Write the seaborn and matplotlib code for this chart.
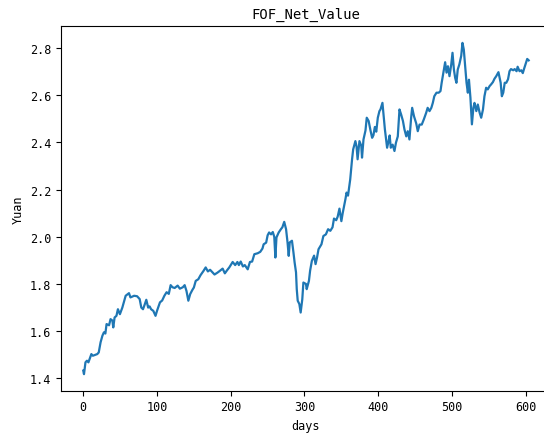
import matplotlib
matplotlib.use("Agg")
import matplotlib.pyplot as plt
import seaborn as sns
import pandas as pd

# Net value of the FOF portfolio, sampled along the trading-day axis
days = [
    0, 1, 3, 5, 7, 11, 13, 19, 21, 23.5, 26, 28, 30, 31.6, 35, 37, 39.5, 40.7,
    42.5, 45, 47, 49.7, 53, 57.5, 62, 64, 69, 73, 76.5, 78.7, 81, 83, 85.5, 88,
    90, 92, 95, 98, 100, 104, 107, 110, 113, 116, 118.5, 121, 124, 128, 131,
    135, 137.5, 140, 142.5, 145, 148, 150, 152.5, 156, 159, 163, 166, 169, 172,
    175, 178, 182, 185, 189, 192, 195, 198, 202.6, 206, 209, 211, 213.5, 216.5,
    219, 223, 226, 229, 232, 236.5, 240, 243, 244.6, 248, 250, 252, 254.6, 257,
    259, 260.5, 262, 265, 268, 270, 272.5, 275, 277, 278.6, 280, 283, 285,
    286.6, 288.5, 289.5, 290.8, 293, 294.8, 297, 298.5, 302, 303, 306, 307.6,
    310, 313, 315, 317, 319, 323, 325.6, 329, 332, 335, 338, 340, 343, 345,
    347.4, 350, 351.8, 355.5, 357, 359, 362, 364.5, 366, 369, 370.6, 372,
    374.5, 377, 378, 380, 382.7, 384.4, 387, 389.5, 391.7, 393.5, 395.4, 397.3,
    399.4, 401.6, 403, 405.7, 407.5, 409, 412, 414, 415.5, 417, 419.5, 422,
    424, 426.5, 428.8, 431, 433.5, 435.5, 438, 440, 442.3, 444.6, 446, 448.5,
    451.5, 453.6, 456, 459, 461.8, 465, 467, 469.5, 472, 474, 476, 479, 482,
    484.4, 486, 489, 490.7, 492.6, 494.5, 496.6, 499, 500.7, 502.6, 504.3, 506,
    507.8, 510, 512.5, 514.2, 516, 518, 519.7, 521.5, 523, 525, 527, 529,
    530.5, 533, 535, 537.5, 539.6, 542, 544, 546.3, 548.5, 551, 553, 555.5,
    557.6, 560, 563, 566, 567.6, 569.5, 571.5, 573.6, 576, 578, 580, 583, 585,
    587.6, 589, 591.6, 594, 596, 597.6, 599.6, 602, 604,
]
net_value = [
    1.433, 1.418, 1.468, 1.475, 1.468, 1.503, 1.496, 1.503, 1.510, 1.553, 1.581,
    1.595, 1.590, 1.630, 1.625, 1.651, 1.645, 1.616, 1.658, 1.665, 1.693, 1.672,
    1.700, 1.750, 1.761, 1.743, 1.750, 1.748, 1.736, 1.700, 1.693, 1.710, 1.733,
    1.700, 1.705, 1.693, 1.686, 1.665, 1.686, 1.722, 1.730, 1.750, 1.765, 1.758,
    1.795, 1.786, 1.783, 1.793, 1.780, 1.786, 1.795, 1.770, 1.729, 1.757, 1.775,
    1.785, 1.813, 1.820, 1.837, 1.855, 1.870, 1.853, 1.860, 1.850, 1.840, 1.848,
    1.855, 1.865, 1.845, 1.858, 1.870, 1.893, 1.880, 1.893, 1.880, 1.895, 1.874,
    1.880, 1.862, 1.893, 1.895, 1.926, 1.930, 1.936, 1.950, 1.968, 1.975, 2.006,
    2.018, 2.010, 2.020, 2.000, 1.912, 1.997, 2.018, 2.032, 2.040, 2.063, 2.032,
    1.976, 1.919, 1.976, 1.983, 1.934, 1.891, 1.849, 1.778, 1.729, 1.715, 1.679,
    1.735, 1.806, 1.800, 1.778, 1.813, 1.856, 1.898, 1.920, 1.884, 1.912, 1.947,
    1.968, 2.003, 2.010, 2.032, 2.025, 2.040, 2.077, 2.070, 2.085, 2.119, 2.066,
    2.100, 2.159, 2.187, 2.174, 2.243, 2.328, 2.370, 2.405, 2.382, 2.328, 2.405,
    2.385, 2.335, 2.412, 2.450, 2.504, 2.490, 2.450, 2.419, 2.430, 2.465, 2.445,
    2.504, 2.532, 2.539, 2.567, 2.504, 2.455, 2.377, 2.405, 2.429, 2.377, 2.390,
    2.363, 2.398, 2.425, 2.539, 2.518, 2.490, 2.455, 2.425, 2.447, 2.412, 2.504,
    2.546, 2.510, 2.480, 2.447, 2.475, 2.475, 2.497, 2.525, 2.546, 2.532, 2.546,
    2.567, 2.595, 2.610, 2.610, 2.617, 2.652, 2.708, 2.739, 2.695, 2.722, 2.680,
    2.730, 2.779, 2.708, 2.673, 2.652, 2.708, 2.730, 2.766, 2.821, 2.793, 2.716,
    2.652, 2.610, 2.665, 2.589, 2.476, 2.546, 2.567, 2.532, 2.560, 2.525, 2.504,
    2.539, 2.595, 2.631, 2.624, 2.638, 2.645, 2.655, 2.669, 2.680, 2.697, 2.652,
    2.595, 2.610, 2.652, 2.652, 2.667, 2.701, 2.710, 2.705, 2.710, 2.701, 2.720,
    2.701, 2.705, 2.693, 2.710, 2.729, 2.753, 2.747,
]

plt.rcParams["font.family"] = ["DejaVu Sans Mono"]
plt.rcParams["font.size"] = 8.5

df = pd.DataFrame({"days": days, "Yuan": net_value})

fig = plt.figure(figsize=(5.44, 4.35), dpi=100)
ax = fig.add_axes([0.1121, 0.0995, 0.9007, 0.8377])
sns.lineplot(data=df, x="days", y="Yuan", ax=ax, color="#1f77b4", linewidth=1.6)

ax.set_xticks([0, 100, 200, 300, 400, 500, 600])
ax.set_yticks([1.4, 1.6, 1.8, 2.0, 2.2, 2.4, 2.6, 2.8])
ax.set_title("FOF_Net_Value", fontsize=10)
ax.set_xlabel("days", fontsize=8.5)
ax.set_ylabel("Yuan", fontsize=8.5)

fig.savefig("out.png", dpi=100)
